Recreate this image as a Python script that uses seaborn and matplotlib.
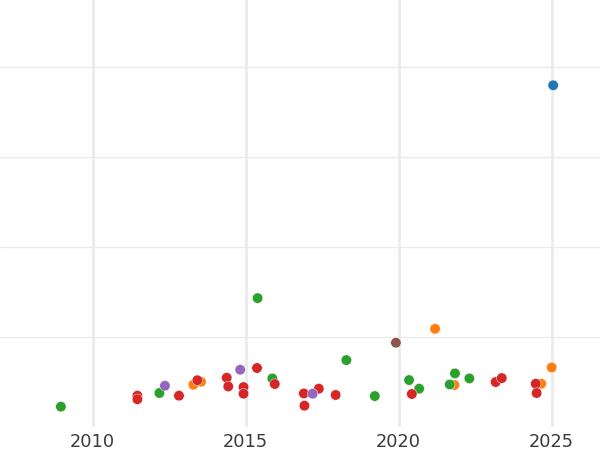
import seaborn as sns
import matplotlib.pyplot as plt
import pandas as pd

# values (x = year, y = value)
orange_x = [2013.29, 2013.54, 2021.19, 2021.82, 2024.66, 2025.00]
orange_y = [47.0, 50.3, 109.2, 46.7, 48.1, 66.2]

green_x = [2008.96, 2012.18, 2015.39, 2015.87, 2018.29, 2019.22, 2020.34,
           2020.67, 2021.67, 2021.84, 2022.31]
green_y = [22.6, 37.8, 143.3, 54.0, 74.4, 34.4, 52.2, 42.6, 47.3, 59.6, 54.0]

red_x = [2011.46, 2011.46, 2012.82, 2013.42, 2014.38, 2014.43, 2014.93,
         2014.93, 2015.37, 2015.95, 2016.90, 2016.92, 2017.39, 2017.94,
         2020.43, 2023.17, 2023.37, 2024.48, 2024.51]
red_y = [34.8, 30.9, 34.8, 52.0, 54.8, 45.1, 44.4, 37.0, 65.6, 47.8, 37.3,
         23.7, 42.6, 35.6, 36.7, 50.0, 54.4, 48.1, 37.8]

purple_x = [2012.36, 2014.82, 2017.19]
purple_y = [45.9, 63.7, 37.0]

brown_x = [2019.91]
brown_y = [93.7]

blue_x = [2025.05]
blue_y = [380.0]

groups = ["orange", "green", "red", "purple", "brown", "blue"]
colors = {"blue": "#1f77b4", "orange": "#ff7f0e", "green": "#2ca02c",
          "red": "#d62728", "purple": "#9467bd", "brown": "#8c564b"}

xs = [orange_x, green_x, red_x, purple_x, brown_x, blue_x]
ys = [orange_y, green_y, red_y, purple_y, brown_y, blue_y]
rows = []
for g, gx, gy in zip(groups, xs, ys):
    for a, b in zip(gx, gy):
        rows.append({"year": a, "value": b, "group": g})
df = pd.DataFrame(rows)

sns.set_theme(style="whitegrid")
plt.rcParams["font.family"] = ["DejaVu Sans"]

fig = plt.figure(figsize=(6, 4.5), dpi=100)
ax = fig.add_axes([0, 1 - 427 / 450, 1, 427 / 450])
sns.scatterplot(data=df, x="year", y="value", hue="group", palette=colors,
                s=56, linewidth=0.3, edgecolor="white", legend=False, ax=ax)

ax.set_xlim(2006.97, 2026.58)
ax.set_ylim(0, 474.8)
ax.set_xticks([2010, 2015, 2020, 2025])
ax.set_yticks([100, 200, 300, 400])
ax.set_yticklabels([])
ax.set_xlabel("")
ax.set_ylabel("")
ax.tick_params(axis="x", labelsize=12.8, labelcolor="#3b3b3b", pad=4, length=0)
ax.tick_params(axis="y", length=0)
ax.grid(color="#ebebeb", linewidth=1.0)
ax.grid(axis="x", linewidth=2.0)
sns.despine(ax=ax, left=True, bottom=True)

plt.savefig("out.png", dpi=100)
